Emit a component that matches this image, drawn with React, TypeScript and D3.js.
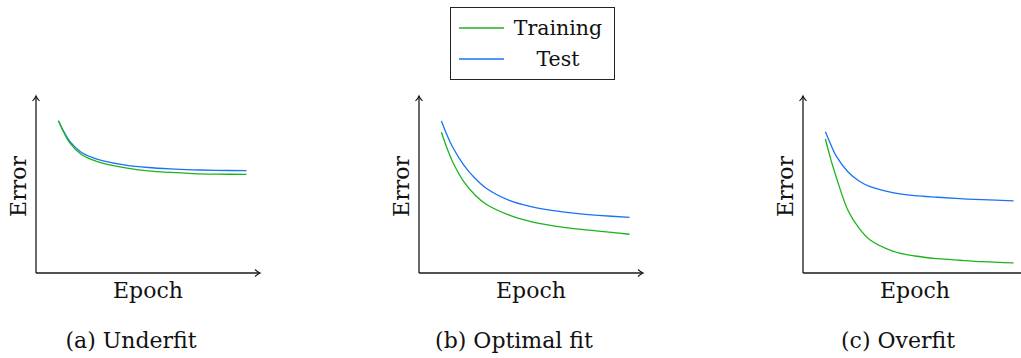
import React from 'react';
import * as d3 from 'd3';

const epochs = [1, 1.25, 1.5, 2, 2.5, 3, 4, 5, 6, 7, 8, 9.4];

const underfitTrain = [0.86, 0.792, 0.737, 0.672, 0.64, 0.619, 0.594, 0.577, 0.568, 0.562, 0.559, 0.557];
const underfitTest = [0.86, 0.797, 0.745, 0.684, 0.653, 0.634, 0.61, 0.596, 0.588, 0.583, 0.58, 0.578];
const optimalTrain = [0.795, 0.705, 0.629, 0.516, 0.441, 0.388, 0.328, 0.29, 0.266, 0.249, 0.237, 0.219];
const optimalTest = [0.859, 0.78, 0.712, 0.61, 0.535, 0.479, 0.412, 0.375, 0.352, 0.337, 0.326, 0.314];
const overfitTrain = [0.757, 0.638, 0.535, 0.356, 0.253, 0.186, 0.124, 0.096, 0.081, 0.072, 0.064, 0.057];
const overfitTest = [0.798, 0.723, 0.657, 0.572, 0.52, 0.488, 0.454, 0.437, 0.428, 0.42, 0.414, 0.408];

const captions = ['(a) Underfit', '(b) Optimal fit', '(c) Overfit'];
const seriesNames = ['Training', 'Test'];

const W = 1021;
const H = 358;
const FONT = "'DejaVu Serif', serif";
const FS = 22;
const GREEN = '#1db31d';
const BLUE = '#1a72f5';
const AXIS = '#1a1a1a';

const panels = [
  { x0: 36, train: underfitTrain, test: underfitTest },
  { x0: 419, train: optimalTrain, test: optimalTest },
  { x0: 803, train: overfitTrain, test: overfitTest },
];

const axisY = 273;
const axisTop = 96;
const axisLen = 224;

const Panel: React.FC<{ x0: number; train: number[]; test: number[]; caption: string }> = ({ x0, train, test, caption }) => {
  const x = d3.scaleLinear().domain([0, 10]).range([x0, x0 + axisLen]);
  const y = d3.scaleLinear().domain([0, 1]).range([axisY, axisTop]);
  const line = d3
    .line<number>()
    .x((_, i) => x(epochs[i]))
    .y((d) => y(d))
    .curve(d3.curveCatmullRom.alpha(0.5));

  const xEnd = x(10);
  const yEnd = y(1);
  const mid = (x(0) + xEnd) / 2;

  return (
    <g>
      <path d={line(test) || ''} fill="none" stroke={BLUE} strokeWidth={1.3} />
      <path d={line(train) || ''} fill="none" stroke={GREEN} strokeWidth={1.3} />
      {/* axes with latex style arrow tips */}
      <line x1={x(0)} y1={axisY} x2={x(0)} y2={yEnd} stroke={AXIS} strokeWidth={1.3} />
      <line x1={x(0)} y1={axisY} x2={xEnd} y2={axisY} stroke={AXIS} strokeWidth={1.3} />
      <path
        d={`M${x(0) - 3.5},${yEnd + 5} Q${x(0) - 0.6},${yEnd + 1.8} ${x(0)},${yEnd} Q${x(0) + 0.6},${yEnd + 1.8} ${x(0) + 3.5},${yEnd + 5}`}
        fill="none"
        stroke={AXIS}
        strokeWidth={1.1}
      />
      <path
        d={`M${xEnd - 5},${axisY - 3.5} Q${xEnd - 1.8},${axisY - 0.6} ${xEnd},${axisY} Q${xEnd - 1.8},${axisY + 0.6} ${xEnd - 5},${axisY + 3.5}`}
        fill="none"
        stroke={AXIS}
        strokeWidth={1.1}
      />
      <text
        transform={`translate(${x(0) - 10},${(axisY + yEnd) / 2 + 2}) rotate(-90)`}
        textAnchor="middle"
        fontSize={FS}
      >
        Error
      </text>
      <text x={mid} y={298} textAnchor="middle" fontSize={FS}>
        Epoch
      </text>
      <text x={mid - 17} y={348} textAnchor="middle" fontSize={FS}>
        {caption}
      </text>
    </g>
  );
};

export default function App() {
  const colors = [GREEN, BLUE];
  return (
    <div style={{ position: 'fixed', left: 0, top: 0 }}>
      <svg width={W} height={H} style={{ display: 'block', background: '#fff', fontFamily: FONT }} fill="#111">
        {panels.map((p, i) => (
          <Panel key={i} x0={p.x0} train={p.train} test={p.test} caption={captions[i]} />
        ))}
        <g>
          <rect x={450.5} y={7.5} width={164} height={72} fill="none" stroke="#222" strokeWidth={1} />
          {seriesNames.map((name, i) => (
            <g key={name}>
              <line x1={459} x2={504} y1={28 + i * 31} y2={28 + i * 31} stroke={colors[i]} strokeWidth={1.3} />
              <text x={558} y={35 + i * 31} textAnchor="middle" fontSize={20.5}>
                {name}
              </text>
            </g>
          ))}
        </g>
      </svg>
    </div>
  );
}
